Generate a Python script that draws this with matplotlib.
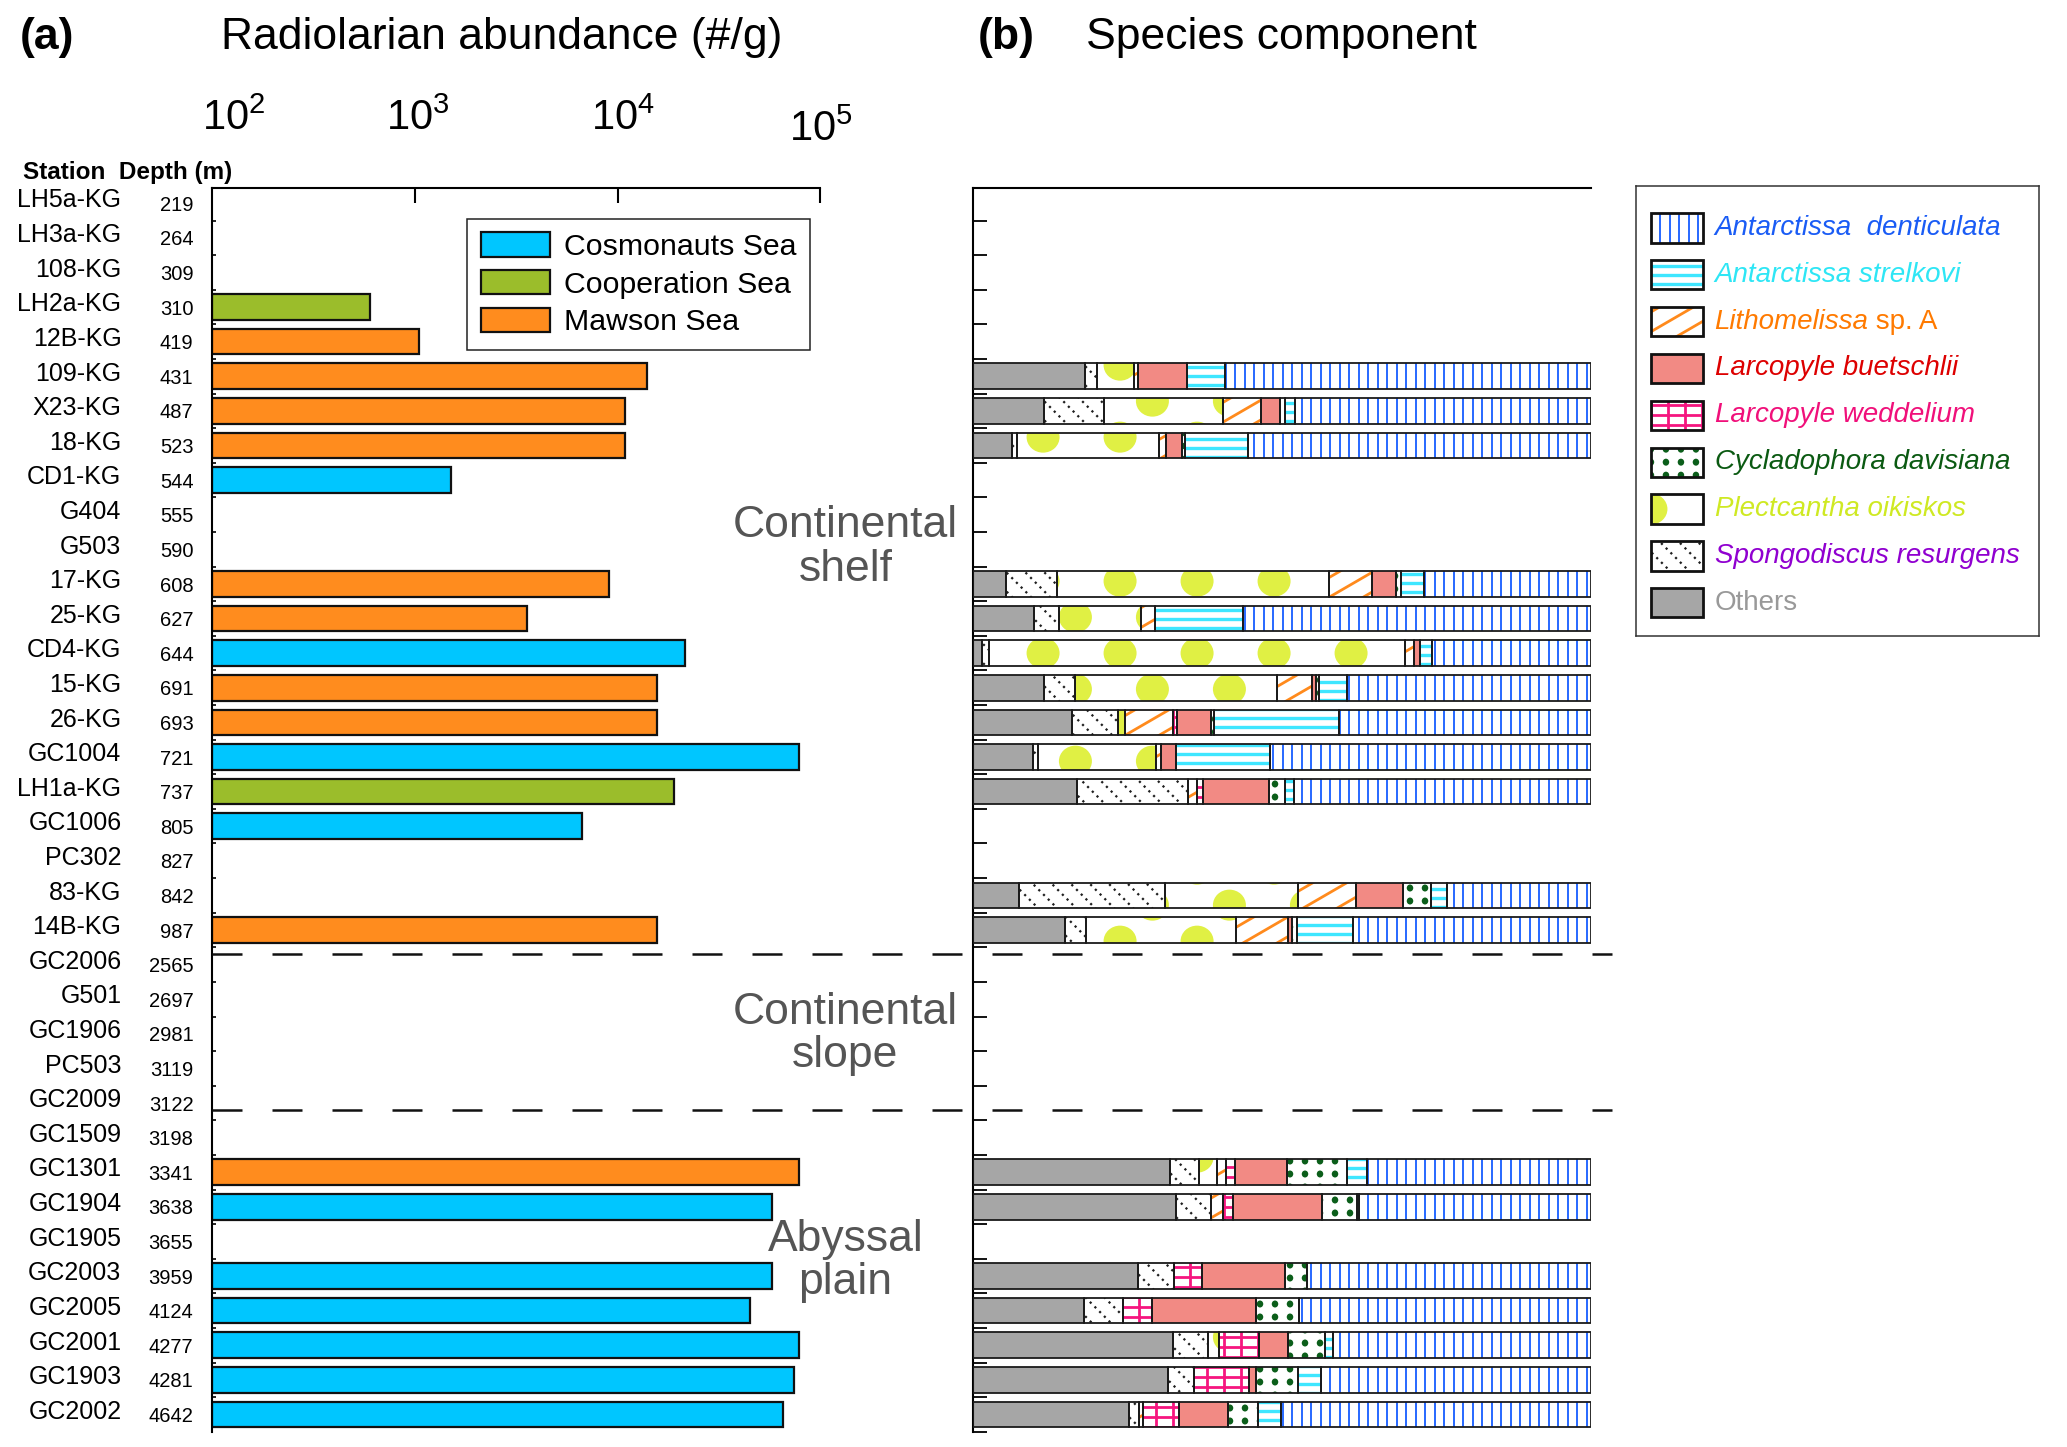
import matplotlib
matplotlib.use('Agg')
import matplotlib.pyplot as plt
import numpy as np
from matplotlib.patches import Rectangle, Ellipse
from matplotlib.collections import LineCollection, PatchCollection
from matplotlib.lines import Line2D
from matplotlib.transforms import blended_transform_factory
from matplotlib.ticker import NullLocator

plt.rcParams['font.family'] = ['Liberation Sans', 'DejaVu Sans']
plt.rcParams['mathtext.fontset'] = 'custom'
plt.rcParams['mathtext.rm'] = 'Liberation Sans'
plt.rcParams['mathtext.it'] = 'Liberation Sans:italic'
plt.rcParams['mathtext.bf'] = 'Liberation Sans:bold'

# ---- data -------------------------------------------------------------
stations = ['LH5a-KG', 'LH3a-KG', '108-KG', 'LH2a-KG', '12B-KG', '109-KG', 'X23-KG',
            '18-KG', 'CD1-KG', 'G404', 'G503', '17-KG', '25-KG', 'CD4-KG', '15-KG',
            '26-KG', 'GC1004', 'LH1a-KG', 'GC1006', 'PC302', '83-KG', '14B-KG',
            'GC2006', 'G501', 'GC1906', 'PC503', 'GC2009', 'GC1509', 'GC1301',
            'GC1904', 'GC1905', 'GC2003', 'GC2005', 'GC2001', 'GC1903', 'GC2002']
depths = [219, 264, 309, 310, 419, 431, 487, 523, 544, 555, 590, 608, 627, 644, 691,
          693, 721, 737, 805, 827, 842, 987, 2565, 2697, 2981, 3119, 3122, 3198, 3341,
          3638, 3655, 3959, 4124, 4277, 4281, 4642]
nan = np.nan
abundance = [nan, nan, nan, 600, 1045, 14000, 10900, 10900, 1505, nan, nan, 9100, 3580,
             21500, 15700, 15700, 78700, 19000, 6650, nan, nan, 15700,
             nan, nan, nan, nan, nan, nan, 78700, 57500, nan, 57500, 44900, 78700,
             73700, 65100]
sea = [None, None, None, 'Cooperation', 'Mawson', 'Mawson', 'Mawson', 'Mawson',
       'Cosmonauts', None, None, 'Mawson', 'Mawson', 'Cosmonauts', 'Mawson', 'Mawson',
       'Cosmonauts', 'Cooperation', 'Cosmonauts', None, None, 'Mawson',
       None, None, None, None, None, None, 'Mawson', 'Cosmonauts', None, 'Cosmonauts',
       'Cosmonauts', 'Cosmonauts', 'Cosmonauts', 'Cosmonauts']
sea_names = ['Cosmonauts', 'Cooperation', 'Mawson']

comp_stations = ['109-KG', 'X23-KG', '18-KG', '17-KG', '25-KG', 'CD4-KG', '15-KG',
                 '26-KG', 'GC1004', 'LH1a-KG', '83-KG', '14B-KG', 'GC1301', 'GC1904',
                 'GC2003', 'GC2005', 'GC2001', 'GC1903', 'GC2002']
others = [18.1, 11.5, 6.3, 5.4, 10.0, 1.6, 11.5, 16.1, 9.8, 16.9, 7.5, 14.9, 31.9, 32.8,
          26.7, 18.1, 32.5, 31.6, 25.2]
spongodiscus = [2.0, 9.8, 0.9, 8.3, 3.9, 1.1, 5.1, 7.4, 0.7, 17.9, 23.6, 3.5, 4.7, 5.8,
                5.8, 6.2, 5.6, 4.1, 1.7]
plectcantha = [6.0, 19.1, 23.0, 43.9, 13.3, 67.2, 32.7, 1.1, 19.1, 0.0, 21.5, 24.2, 2.9,
               0.0, 0.0, 0.0, 1.7, 0.0, 0.0]
lithomelissa = [0.7, 6.2, 1.1, 7.0, 2.3, 1.5, 5.6, 7.9, 0.9, 1.5, 9.4, 8.5, 1.5, 1.8,
                0.0, 0.0, 0.0, 0.0, 0.7]
weddelium = [0.0, 0.0, 0.0, 0.0, 0.0, 0.0, 0.0, 0.6, 0.0, 0.9, 0.0, 0.0, 1.5, 1.7, 4.5,
             4.7, 6.6, 8.9, 5.8]
buetschlii = [7.8, 3.1, 2.5, 3.8, 0.0, 0.9, 0.7, 5.4, 2.3, 10.7, 7.6, 0.5, 8.4, 14.3,
              13.5, 16.9, 4.7, 1.1, 7.9]
cycladophora = [0.0, 0.7, 0.5, 0.9, 0.0, 0.0, 0.5, 0.6, 0.0, 2.6, 4.6, 0.9, 9.7, 5.7,
                3.5, 6.9, 5.9, 6.9, 4.8]
strelkovi = [6.2, 1.7, 10.2, 3.6, 14.1, 2.0, 4.5, 20.2, 15.3, 1.4, 2.5, 9.0, 3.2, 0.3,
             0.0, 0.0, 1.3, 3.7, 3.7]
denticulata = [59.2, 47.8, 55.5, 27.1, 56.3, 25.7, 39.5, 40.8, 51.9, 48.1, 23.4, 38.6,
               36.3, 37.6, 46.0, 47.3, 41.8, 43.6, 50.1]

# ---- styles -----------------------------------------------------------
sea_colors = {'Cosmonauts': '#00c6ff', 'Cooperation': '#9bbd2b', 'Mawson': '#ff8c1e'}

styles = {
    'den': dict(face='white', kind='lines', sets=[(None, 9.5)], color='#1f63ff', lw=1.35, ls='-'),
    'str': dict(face='white', kind='lines', sets=[(0, 9.0)], color='#3ee6ff', lw=2.4, ls='-'),
    'lit': dict(face='white', kind='lines', sets=[(0.58, 34)], color='#ff8a1c', lw=2.0, ls='-'),
    'bue': dict(face='#f28a84', kind=None),
    'wed': dict(face='white', kind='lines', sets=[(None, 17), (0, 10)], color='#f5157f', lw=2.0, ls='-'),
    'cyc': dict(face='white', kind='dots', step=(15, 13), stagger=0, size=(6.5, 7), color='#0b5e1a'),
    'ple': dict(face='white', kind='dots', step=(77, 36), stagger=0.42, size=(33, 31), color='#e0f044'),
    'spo': dict(face='white', kind='lines', sets=[(-1.0, 19)], color='#1e1e1e', lw=1.6, ls=(0, (1, 2.0))),
    'oth': dict(face='#a6a6a6', kind=None),
}

stack = [('oth', others), ('spo', spongodiscus), ('ple', plectcantha), ('lit', lithomelissa),
         ('wed', weddelium), ('bue', buetschlii), ('cyc', cycladophora), ('str', strelkovi),
         ('den', denticulata)]

legend_entries = [('den', 'Antarctissa  denticulata', '', '#1a5cf5', 'italic'),
                  ('str', 'Antarctissa strelkovi', '', '#2ee6f5', 'italic'),
                  ('lit', 'Lithomelissa', ' sp. A', '#ff7a00', 'italic'),
                  ('bue', 'Larcopyle buetschlii', '', '#dd0000', 'italic'),
                  ('wed', 'Larcopyle weddelium', '', '#f0107a', 'italic'),
                  ('cyc', 'Cycladophora davisiana', '', '#0b5a12', 'italic'),
                  ('ple', 'Plectcantha oikiskos', '', '#cfe923', 'italic'),
                  ('spo', 'Spongodiscus resurgens', '', '#9000d0', 'italic'),
                  ('oth', 'Others', '', '#999999', 'normal')]


def add_pattern(ax, patch, st, origin=(0.0, 0.0)):
    # fill a bar segment with a line / dot texture, clipped to the segment
    if st['kind'] is None:
        return
    to_px = ax.transData.transform
    to_data = ax.transData.inverted().transform
    x, y, w, h = patch.get_x(), patch.get_y(), patch.get_width(), patch.get_height()
    (a0, b0), (a1, b1) = to_px([(x, y), (x + w, y + h)])
    xmin, xmax = sorted((a0, a1))
    ymin, ymax = sorted((b0, b1))
    ox, oy = origin
    if st['kind'] == 'lines':
        segs = []
        for slope, step in st['sets']:
            if slope is None:
                for xx in np.arange(np.floor((xmin - ox) / step) * step + ox, xmax + step, step):
                    segs.append([(xx, ymin - 2), (xx, ymax + 2)])
            elif slope == 0:
                for yy in np.arange(np.floor((ymin - oy) / step) * step + oy, ymax + step, step):
                    segs.append([(xmin - 2, yy), (xmax + 2, yy)])
            else:
                cs = [xx - yy / slope for xx in (xmin, xmax) for yy in (ymin, ymax)]
                for c in np.arange(np.floor(min(cs) / step) * step, max(cs) + step, step):
                    xa, xb = xmin - 4, xmax + 4
                    segs.append([(xa, slope * (xa - c)), (xb, slope * (xb - c))])
        segs = [to_data(np.array(s)) for s in segs]
        lc = LineCollection(segs, colors=st['color'], linewidths=st['lw'],
                            linestyles=st['ls'], zorder=2)
        lc.set_capstyle('butt')
        ax.add_collection(lc, autolim=False)
        lc.set_clip_path(patch)
    else:
        sx, sy = st['step']
        ew, eh = st['size']
        ux = abs(to_px((1, 0))[0] - to_px((0, 0))[0])
        uy = abs(to_px((0, 1))[1] - to_px((0, 0))[1])
        shapes = []
        j0 = int(np.floor((ymin - oy - eh) / sy))
        j1 = int(np.ceil((ymax - oy + eh) / sy))
        for j in range(j0, j1 + 1):
            xo = ox + (j % 2) * st['stagger'] * sx
            i0 = int(np.floor((xmin - xo - ew) / sx))
            i1 = int(np.ceil((xmax - xo + ew) / sx))
            for i in range(i0, i1 + 1):
                c = to_data((xo + i * sx, oy + j * sy))
                shapes.append(Ellipse(c, ew / ux, eh / uy))
        pc = PatchCollection(shapes, facecolor=st['color'], edgecolor='none', zorder=2)
        ax.add_collection(pc, autolim=False)
        pc.set_clip_path(patch)


fig = plt.figure(figsize=(20.67, 14.47), dpi=100)
ax1 = fig.add_axes([0.1026, 0.0105, 0.2943, 0.8598])
ax2 = fig.add_axes([0.4705, 0.0105, 0.2994, 0.8598])
ax2.patch.set_visible(False)
bar_h = 0.74
ylim = (35.5, -0.45)

# ---- (a) abundance ----------------------------------------------------
ax1.set_xscale('log')
ax1.set_xlim(1e2, 1e5)
ax1.set_ylim(*ylim)
for name in sea_names:
    idx = [i for i, s in enumerate(sea) if s == name]
    vals = np.array([abundance[i] for i in idx])
    ax1.barh(idx, vals - 1e2, left=1e2, height=bar_h, color=sea_colors[name],
             edgecolor='#111111', linewidth=1.6, label=name + ' Sea', zorder=2)

for side in ('right', 'bottom'):
    ax1.spines[side].set_visible(False)
for side in ('top', 'left'):
    ax1.spines[side].set_linewidth(1.5)
ax1.xaxis.set_ticks_position('top')
ax1.set_xticks([1e3, 1e4, 1e5])
ax1.xaxis.set_minor_locator(NullLocator())
ax1.tick_params(axis='x', direction='in', length=11, width=1.5, labeltop=False,
                labelbottom=False)
ax1.set_yticks(np.arange(0.5, 35, 1))
ax1.yaxis.set_minor_locator(NullLocator())
ax1.tick_params(axis='y', direction='in', length=3, width=1.2, labelleft=False)

tick_vals = [1e2, 1e3, 1e4, 1e5]
tick_off = [(15.3, 49.6), (1.9, 49.6), (3.8, 49.6), (0.0, 42.0)]
for v, off in zip(tick_vals, tick_off):
    ax1.annotate('$10^{%d}$' % round(np.log10(v)), xy=(v, 1), xycoords=('data', 'axes fraction'),
                 xytext=off, textcoords='offset points', ha='center', va='center',
                 fontsize=30, annotation_clip=False)

lab_tr = blended_transform_factory(ax1.transAxes, ax1.transData)
for i, (name, d) in enumerate(zip(stations, depths)):
    ax1.text(-0.149, i - 0.08, name, transform=lab_tr, ha='right', va='center', fontsize=18)
    ax1.text(-0.0307, i + 0.06, str(d), transform=lab_tr, ha='right', va='center',
             fontsize=14.5)

lg = ax1.legend(loc='upper right', bbox_to_anchor=(0.983, 0.975), fontsize=21.8,
                frameon=True, fancybox=False, framealpha=1, edgecolor='#222222',
                handlelength=2.3, handleheight=0.85, labelspacing=0.3, borderpad=0.45,
                handletextpad=0.45, borderaxespad=0)
lg.get_frame().set_linewidth(1.1)

regions = ['Continental\nshelf', 'Continental\nslope', 'Abyssal\nplain']
region_rows = [9.95, 24.0, 30.57]
for txt, r in zip(regions, region_rows):
    ax1.text(1.041, r, txt, transform=lab_tr, ha='center', va='center', fontsize=32,
             color='#555555', linespacing=1.08, multialignment='center')

dash_tr = blended_transform_factory(fig.transFigure, ax1.transData)
for yb in (21.7, 26.2):
    fig.add_artist(Line2D([0.1026, 0.780], [yb, yb], transform=dash_tr, color='#111111',
                          lw=1.8, dashes=(12, 12), zorder=5))

# ---- (b) species component --------------------------------------------
ax2.set_xlim(0, 100)
ax2.set_ylim(*ylim)
for side in ('right', 'bottom'):
    ax2.spines[side].set_visible(False)
for side in ('top', 'left'):
    ax2.spines[side].set_linewidth(1.5)
ax2.set_xticks([])
ax2.set_yticks(np.arange(0.5, 36, 1))
ax2.tick_params(axis='y', direction='in', length=10, width=1.3, labelleft=False)

comp_rows = np.array([stations.index(s) for s in comp_stations])
totals = np.sum([v for _, v in stack], axis=0)
left = np.zeros(len(comp_stations))
ple_origin = tuple(ax2.transData.transform((11.4, 13)))
for key, vals in stack:
    st = styles[key]
    vals = np.array(vals) / totals * 100
    m = vals > 0
    bars = ax2.barh(comp_rows[m], vals[m], left=left[m], height=bar_h, color=st['face'],
                    linewidth=0, zorder=1)
    for p in bars:
        add_pattern(ax2, p, st, origin=ple_origin if key == 'ple' else (0.0, 0.0))
    ax2.barh(comp_rows[m], vals[m], left=left[m], height=bar_h, fill=False,
             edgecolor='#1a1a1a', linewidth=1.3, zorder=3)
    left += vals

# legend for (b)
leg = fig.add_axes([0.7917, 0.5604, 0.1949, 0.3114])
leg.set_xlim(0, 1)
leg.set_ylim(0, 1)
leg.set_xticks([])
leg.set_yticks([])
for s in leg.spines.values():
    s.set_linewidth(1.1)
    s.set_edgecolor('#333333')
ys = np.linspace(0.906, 0.074, len(legend_entries))
for yc, (key, main, extra, col, fstyle) in zip(ys, legend_entries):
    st = styles[key]
    r = Rectangle((0.036, yc - 0.0325), 0.128, 0.065, facecolor=st['face'], linewidth=0,
                  zorder=1)
    leg.add_patch(r)
    add_pattern(leg, r, st, origin=tuple(leg.transData.transform((0.036, yc))))
    leg.add_patch(Rectangle((0.036, yc - 0.0325), 0.128, 0.065, fill=False,
                            edgecolor='#111111', linewidth=2, zorder=3))
    t = leg.text(0.194, yc, main, style=fstyle, color=col, fontsize=20, va='center')
    if extra:
        leg.annotate(extra, xy=(1, 0), xycoords=t, ha='left', va='bottom', color=col,
                     fontsize=20)

# ---- titles -----------------------------------------------------------
fig.text(0.0096, 0.9744, '(a)', fontsize=32, fontweight='bold', va='center')
fig.text(0.107, 0.9744, 'Radiolarian abundance (#/g)', fontsize=32, va='center')
fig.text(0.473, 0.9744, '(b)', fontsize=32, fontweight='bold', va='center')
fig.text(0.5256, 0.9744, 'Species component', fontsize=32, va='center')
fig.text(0.0109, 0.881, 'Station  Depth (m)', fontsize=17.5, fontweight='bold', va='center')

fig.savefig('out.png', dpi=100)
